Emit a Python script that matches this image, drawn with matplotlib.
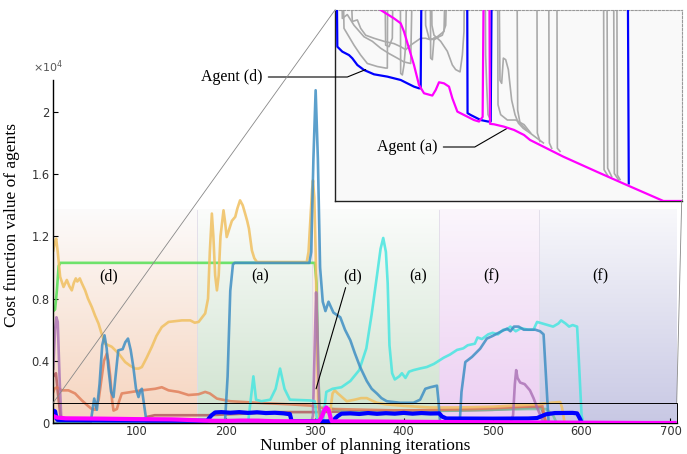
import numpy as np
import matplotlib
matplotlib.use("Agg")
import matplotlib.pyplot as plt
from matplotlib.patches import Rectangle, ConnectionPatch

# ---------------- data (cost values in units of 1e4) ----------------
green_x = [6, 8, 10, 12, 14, 300, 302, 304, 306]
green_y = [0.72, 0.73, 0.85, 1.01, 1.03, 1.03, 0.9, 0.3, 0.0]

gold_x = [6, 7.3, 9.2, 11, 13.7, 17.5, 21.2, 24, 26.8, 29, 31.3, 33, 35.8, 38, 41.8, 45, 49.3, 53,
          56.8, 60, 64.3, 71.8, 79.4, 86.8, 92, 98, 102, 105.6, 111, 116.8, 122, 128, 135.6, 150.6,
          160, 165, 169.4, 176.8, 180, 182, 184.3, 186, 188, 190, 192, 194, 197.4, 199, 201, 204,
          206.8, 210.6, 213, 216, 219, 221.7, 224, 226, 229.3, 232, 235, 291, 293, 295, 297, 298,
          299.5, 301, 302.5, 304, 306, 316, 318, 320, 322.5, 326, 331, 336, 345, 352, 358.5, 364,
          370, 380, 400, 430, 460, 500, 530, 550, 565, 576, 578, 581]
gold_y = [1.11, 1.15, 1.186, 1.1, 0.94, 0.875, 0.92, 0.88, 0.853, 0.9, 0.93, 0.91, 0.93, 0.9, 0.853,
          0.8, 0.746, 0.69, 0.64, 0.58, 0.51, 0.49, 0.447, 0.392, 0.37, 0.35, 0.35, 0.36, 0.42, 0.49,
          0.56, 0.617, 0.65, 0.66, 0.66, 0.645, 0.65, 0.705, 0.8, 1.1, 1.347, 1.2, 0.95, 0.853, 0.95,
          1.2, 1.368, 1.3, 1.196, 1.25, 1.30, 1.326, 1.38, 1.432, 1.4, 1.347, 1.3, 1.25, 1.11, 1.06,
          1.035, 1.035, 1.1, 1.3, 1.5, 1.56, 1.45, 1.1, 0.6, 0.1, 0.0, 0.0, 0.1, 0.19, 0.21, 0.19,
          0.165, 0.14, 0.15, 0.16, 0.16, 0.145, 0.13, 0.12, 0.11, 0.1, 0.1, 0.105, 0.115, 0.12,
          0.13, 0.135, 0.1, 0.0]

steel_x = [6, 48, 50, 52, 55, 58, 61, 63.6, 66, 68, 71, 73.7, 76, 79, 84, 87, 90, 93, 96, 99, 101.8,
           104, 105.6, 108, 111, 199, 202, 205, 208, 210, 294, 296, 298.5, 301, 303.5, 306, 309,
           312, 315.5, 321, 328.7, 334, 340, 345, 351, 358.5, 364, 370, 375, 381, 396, 411, 418.5,
           424.3, 430, 437.4, 439, 441, 463, 465, 469.3, 476.8, 486, 493.5, 500, 505, 510, 516.3,
           520, 524, 529.2, 535, 542, 548, 553.4, 557.3, 560, 563]
steel_y = [0, 0, 0.08, 0.157, 0.085, 0.25, 0.5, 0.564, 0.48, 0.35, 0.2, 0.167, 0.3, 0.467, 0.475,
           0.52, 0.543, 0.47, 0.36, 0.22, 0.167, 0.21, 0.22, 0.12, 0.0, 0.0, 0.3, 0.85, 1.02, 1.03,
           1.03, 1.1, 1.7, 2.14, 1.7, 1.0, 0.78, 0.72, 0.78, 0.71, 0.68, 0.6, 0.532, 0.45, 0.36,
           0.27, 0.22, 0.189, 0.16, 0.14, 0.13, 0.13, 0.15, 0.22, 0.23, 0.24, 0.15, 0.0, 0.0, 0.2,
           0.392, 0.425, 0.478, 0.543, 0.56, 0.575, 0.59, 0.607, 0.59, 0.62, 0.62, 0.6, 0.6, 0.6,
           0.59, 0.57, 0.3, 0.0]

turq_x = [6, 10, 14, 225, 228, 231, 234, 240, 250, 256, 261, 266, 272, 295, 300, 303, 309, 313, 320,
          330, 340, 350, 358, 364, 370, 374, 377, 380, 382, 384, 387, 390, 395, 398, 402, 406, 411,
          418, 426, 434, 445, 452, 460, 467, 472, 480, 483, 488, 495, 500, 506, 512, 516, 520, 526,
          532, 540, 546, 550, 556, 562, 568, 574, 577, 582, 586, 590, 595, 597, 600, 602]
turq_y = [0.07, 0.05, 0.0, 0.0, 0.15, 0.30, 0.15, 0.14, 0.15, 0.22, 0.35, 0.22, 0.15, 0.145, 0.14,
          0.0, 0.0, 0.2, 0.22, 0.23, 0.27, 0.34, 0.48, 0.7, 0.95, 1.12, 1.19, 1.1, 0.9, 0.5, 0.32,
          0.28, 0.3, 0.32, 0.29, 0.33, 0.34, 0.35, 0.36, 0.38, 0.42, 0.44, 0.47, 0.48, 0.5, 0.51,
          0.55, 0.54, 0.57, 0.58, 0.57, 0.6, 0.6, 0.62, 0.59, 0.61, 0.6, 0.6, 0.65, 0.64, 0.63,
          0.62, 0.64, 0.66, 0.64, 0.62, 0.63, 0.62, 0.4, 0.05, 0.0]

coral_x = [6, 7.3, 10, 15.5, 23, 30.5, 38, 45, 49.3, 53, 57, 60.6, 63, 66.2, 68, 70, 72, 73.7, 77.5,
           80, 83, 94.4, 105.6, 120.6, 128, 135.6, 146.8, 158, 169.4, 176.8, 182, 190, 205, 235,
           272, 295, 305, 320, 360, 400, 440, 480, 520, 550, 556, 560]
coral_y = [0.2, 0.22, 0.23, 0.21, 0.21, 0.19, 0.146, 0.11, 0.09, 0.085, 0.15, 0.3, 0.4, 0.446, 0.4,
           0.3, 0.15, 0.08, 0.09, 0.14, 0.19, 0.2, 0.21, 0.22, 0.23, 0.21, 0.2, 0.18, 0.185, 0.2,
           0.19, 0.157, 0.14, 0.13, 0.12, 0.112, 0.1, 0.09, 0.085, 0.08, 0.085, 0.09, 0.1, 0.11,
           0.11, 0.0]

purple_x = [6, 8, 9.5, 11, 13, 15, 18, 296, 298, 300, 301.5, 303, 305, 307, 520, 523, 525, 526.5,
            528, 531, 536, 542, 546, 550, 555, 558]
purple_y = [0.35, 0.6, 0.68, 0.65, 0.3, 0.02, 0.0, 0.0, 0.05, 0.5, 0.84, 0.6, 0.1, 0.0, 0.0, 0.05,
            0.25, 0.34, 0.29, 0.26, 0.25, 0.21, 0.16, 0.1, 0.03, 0.0]

darkred_x = [6, 9, 11, 14, 18, 100, 112, 120, 180, 220, 260, 300, 340, 400, 450, 500, 545, 555, 560]
darkred_y = [0.3, 0.32, 0.2, 0.05, 0.0, 0.0, 0.04, 0.05, 0.05, 0.06, 0.07, 0.07, 0.075, 0.08, 0.08,
             0.085, 0.1, 0.1, 0.0]

teal_x = [305, 310, 320, 340, 380, 420, 460, 500, 540, 560, 568, 572]
teal_y = [0.0, 0.1, 0.09, 0.07, 0.07, 0.075, 0.08, 0.085, 0.09, 0.09, 0.05, 0.0]

# Agent (d): blue, Agent (a): magenta
agent_d_x = [6, 8, 9.4, 10.7, 20.8, 34.3, 41, 51.2, 64.6, 84.9, 111.8, 138.8, 152.3, 165.7, 175.8,
             179.2, 181, 184, 188, 195, 205, 215, 225, 235, 245, 255, 265, 270, 272, 274, 280.3,
             300.5, 315.4, 320.8, 323, 326, 330, 340, 350, 360, 370, 380, 390, 400, 410, 420, 430,
             440, 443, 448, 500, 540, 550, 560, 570, 590, 595, 598, 600]
agent_d_y = [0.08, 0.075, 0.03, 0.0202, 0.01955, 0.0191, 0.01868, 0.0178, 0.01715, 0.01658,
             0.01628, 0.01584, 0.0154, 0.01497, 0.01475, 0.01475, 0.03, 0.05, 0.068, 0.07, 0.066,
             0.07, 0.065, 0.069, 0.064, 0.066, 0.062, 0.058, 0.058, 0.0115, 0.01126, 0.0106, 0.0104,
             0.0104, 0.03, 0.045, 0.06, 0.062, 0.058, 0.064, 0.059, 0.063, 0.06, 0.065, 0.06, 0.064,
             0.061, 0.062, 0.042, 0.029, 0.028, 0.029, 0.032, 0.056, 0.064, 0.065, 0.062, 0.03,
             0.0023]

agent_a_x = [6, 10, 20, 60, 98.3, 125.3, 138.8, 145.5, 155.6, 165.7, 175.8, 186, 202.8, 209.6,
             216.3, 226.4, 236.5, 243.3, 253.4, 273.6, 287, 297.2, 304.5, 308, 311, 313, 315.5,
             318, 319.4, 327.5, 347.7, 368, 388.2, 400.3, 467.7, 535, 595.7, 670, 707]
agent_a_y = [0.045, 0.035, 0.03, 0.028, 0.025, 0.0239, 0.02326, 0.02217, 0.01999, 0.0178, 0.01519,
             0.0141, 0.0138, 0.01453, 0.01554, 0.0154, 0.01497, 0.01344, 0.0117, 0.01104, 0.0106,
             0.0104, 0.011, 0.04, 0.085, 0.1, 0.085, 0.03, 0.0101, 0.01004, 0.00973, 0.0093,
             0.00864, 0.00799, 0.0058, 0.00384, 0.0021, 0.0, 0.0]

# other agents as seen in the zoomed inset (grey)
inset_gray = [
    ([18.8, 24.2, 34.3, 44.4, 57.9, 71.4, 91.6, 108.4, 111.8, 113.2],
     [0.04, 0.0226, 0.0215, 0.0204, 0.0191, 0.018, 0.0176, 0.0174, 0.0174, 0.04]),
    ([30.9, 41, 51.2, 57.9, 68, 84.9, 105.1, 125.3, 138.8, 148.9, 159, 179.2, 189.3, 199.4, 212.9,
      226.4, 233.1],
     [0.04, 0.0235, 0.0237, 0.0226, 0.0217, 0.0213, 0.0209, 0.0206, 0.0202, 0.0198, 0.0204, 0.0213,
      0.0213, 0.0211, 0.0215, 0.0222, 0.04]),
    ([17.5, 20.8, 30.9, 44.4, 64.6, 81.5, 98.3, 115.2, 132, 145.5, 159, 165.7],
     [0.04, 0.0239, 0.0244, 0.023, 0.0215, 0.0209, 0.02, 0.0193, 0.0187, 0.0182, 0.018, 0.04]),
    ([137.4, 138.8, 142.2, 145.5, 148.9, 153.6],
     [0.04, 0.0167, 0.0165, 0.0178, 0.0204, 0.04]),
    ([105, 108.4, 115.2, 121.9, 125.3],
     [0.04, 0.0204, 0.0202, 0.0213, 0.04]),
    ([186, 189.3, 196.1, 206.2, 216.3, 223, 229.8, 236.5],
     [0.04, 0.023, 0.0213, 0.0211, 0.0215, 0.0217, 0.023, 0.04]),
    ([199.4, 202, 206.2, 219.7, 233.1, 243.3, 250, 258.8, 263.5, 266.8, 268.9],
     [0.04, 0.023, 0.0217, 0.0209, 0.0196, 0.0178, 0.0172, 0.0169, 0.0191, 0.0222, 0.04]),
    ([198.1, 199.4, 202.8, 206.2],
     [0.04, 0.0187, 0.0185, 0.0213]),
    ([308.6, 310.6, 312.7, 315.4, 320.8],
     [0.04, 0.0191, 0.0152, 0.0113, 0.0106]),
    ([334.2, 335.6, 341, 354.5, 371.3, 388.2, 401.6],
     [0.04, 0.0126, 0.0113, 0.0106, 0.0106, 0.01, 0.0089]),
    ([336.3, 339.6, 343, 346.4, 351.1, 356.5, 363.2, 370, 376.7, 386.8, 400.3, 427.3],
     [0.04, 0.0158, 0.0154, 0.0187, 0.0185, 0.0172, 0.0132, 0.0113, 0.0102, 0.0095, 0.0089, 0.0076]),
    ([373.3, 375.3, 380.1, 393.5], [0.04, 0.0119, 0.0102, 0.0093]),
    ([413.8, 415.1, 420.5], [0.04, 0.0089, 0.0078]),
    ([437.4, 439.4, 444.1], [0.04, 0.0076, 0.0069]),
    ([454.2, 455.6, 461], [0.04, 0.0069, 0.0065]),
    ([548.6, 550, 558.7], [0.04, 0.0041, 0.0032]),
    ([555.3, 557.3, 565.4], [0.04, 0.0043, 0.0032]),
    ([568.8, 570.8, 578.9], [0.04, 0.0036, 0.0028]),
    ([575.5, 576.9, 582.3], [0.04, 0.0034, 0.0028]),
]

# behaviour regions
region_labels = ['(d)', '(a)', '(d)', '(a)', '(f)', '(f)']
region_start = [6, 168, 297, 304, 440, 552]
region_end = [168, 297, 304, 440, 552, 707]
label_x = [68, 238.7, 343, 416.8, 499, 621]
label_y = 0.94

xticks = [100, 200, 300, 400, 500, 600, 700]
yticks = [0, 0.4, 0.8, 1.2, 1.6, 2.0]
ytick_labels = ['0', '0.4', '0.8', '1.2', '1.6', '2']

# ---------------- styling ----------------
region_bottom = [(246, 212, 190), (206, 226, 206), (246, 212, 190), (206, 226, 206),
                 (236, 206, 242), (200, 200, 228)]
region_top = [(252, 251, 251), (251, 252, 251), (252, 251, 251), (251, 252, 251),
              (251, 246, 252), (248, 248, 251)]
grad_top = 1.37

fig = plt.figure(figsize=(6.87, 4.54), dpi=100)
ax = fig.add_axes([53.3 / 687, 31 / 454, 623.4 / 687, 343 / 454])

t = np.linspace(0, 1, 256)[:, None]
for x0, x1, cb, ct in zip(region_start, region_end, region_bottom, region_top):
    cb = np.array(cb) / 255.0
    ct = np.array(ct) / 255.0
    img = (cb[None, :] * (1 - t) + ct[None, :] * t)[:, None, :]
    ax.imshow(img, extent=[x0, x1, 0, grad_top], origin='lower', aspect='auto',
              zorder=0, interpolation='bilinear')
for xb in region_start[1:]:
    ax.plot([xb, xb], [0, grad_top], color=(0.88, 0.86, 0.91), lw=0.6, zorder=0.5)

lw = 1.9
al = 0.8
ax.plot(darkred_x, darkred_y, color='#b0555a', lw=lw, alpha=al, zorder=2)
ax.plot(teal_x, teal_y, color='#78c0a0', lw=lw, alpha=al, zorder=2)
ax.plot(coral_x, coral_y, color='#e07a55', lw=lw, alpha=al, zorder=2)
ax.plot(green_x, green_y, color='#55e055', lw=lw, alpha=0.85, zorder=2)
ax.plot(gold_x, gold_y, color='#f0c060', lw=lw, alpha=0.85, zorder=2)
ax.plot(purple_x, purple_y, color='#a86eb4', lw=lw, alpha=al, zorder=2)
ax.plot(turq_x, turq_y, color='#48e6e0', lw=lw, alpha=0.85, zorder=2)
ax.plot(steel_x, steel_y, color='#3f8fc4', lw=lw, alpha=0.85, zorder=2)
ax.plot(agent_d_x, agent_d_y, color='#0000ff', lw=3.0, zorder=3, solid_capstyle='butt')
ax.plot(agent_a_x, agent_a_y, color='#ff00ff', lw=3.0, zorder=4, solid_capstyle='butt')

ax.set_xlim(6, 707)
ax.set_ylim(0, 2.206)
ax.set_xticks(xticks)
ax.set_xticklabels([str(v) for v in xticks])
ax.set_yticks(yticks)
ax.set_yticklabels(ytick_labels)
ax.tick_params(direction='in', length=3.5, width=0.8, labelsize=8.3, labelcolor='#333333')
ax.tick_params(axis='x', pad=1.5)
ax.tick_params(axis='y', pad=2.5)
for s in ['top', 'right']:
    ax.spines[s].set_visible(False)
for s in ['left', 'bottom']:
    ax.spines[s].set_linewidth(1.0)

serif = 'Liberation Serif'
ax.set_xlabel('Number of planning iterations', family=serif, fontsize=12.5, labelpad=0)
ax.set_ylabel('Cost function value of agents', family=serif, fontsize=12.5)
ax.yaxis.set_label_coords(-0.0534, 0.578)
ax.text(-0.033, 1.015, r'$\times10^{4}$', transform=ax.transAxes, fontsize=8,
        color='#555555', ha='left', va='bottom')

for lab, lx in zip(region_labels, label_x):
    if lx == label_x[2]:
        ax.annotate(lab, xy=(301.5, 0.22), xytext=(lx, label_y), family=serif, fontsize=11.5,
                    ha='center', va='center', zorder=6,
                    arrowprops=dict(arrowstyle='-', color='black', lw=0.8,
                                    relpos=(0.15, 0.0), shrinkA=0, shrinkB=0))
    else:
        ax.text(lx, label_y, lab, family=serif, fontsize=11.5, ha='center', va='center', zorder=6)

# zoom rectangle
rect_y = 0.131
ax.add_patch(Rectangle((6, 0), 701, rect_y, fill=False, edgecolor='black', lw=0.7, zorder=5,
                       clip_on=False))

# ---------------- inset ----------------
axin = fig.add_axes([335 / 687, (454 - 201) / 454, 346.7 / 687, 191 / 454])
axin.set_facecolor('#f9f9f9')
for gx, gy in inset_gray:
    axin.plot(gx, gy, color='#aaaaaa', lw=1.2, zorder=2)
axin.plot(agent_d_x, agent_d_y, color='#0000ff', lw=1.6, zorder=3)
axin.plot(agent_a_x, agent_a_y, color='#ff00ff', lw=1.6, zorder=4)
axin.set_xlim(6, 707)
axin.set_ylim(0, 0.025)
axin.set_xticks([])
axin.set_yticks([])
for s in ['top', 'right']:
    axin.spines[s].set_linestyle((0, (2, 1.5)))
    axin.spines[s].set_color('#999999')
    axin.spines[s].set_linewidth(0.8)
for s in ['left', 'bottom']:
    axin.spines[s].set_color('#222222')
    axin.spines[s].set_linewidth(1.0)

axin.annotate('Agent (d)', xy=(68, 0.0172), xycoords='data',
              xytext=(232, 454 - 77), textcoords='figure pixels', family=serif, fontsize=11.5,
              ha='center', va='center', annotation_clip=False,
              arrowprops=dict(arrowstyle='-', color='black', lw=0.8, relpos=(1.0, 0.5),
                              shrinkA=2, shrinkB=0,
                              connectionstyle='angle,angleA=0,angleB=22,rad=0'))
axin.annotate('Agent (a)', xy=(356.4, 0.0096), xycoords='data',
              xytext=(407.5, 454 - 147), textcoords='figure pixels', family=serif, fontsize=11.5,
              ha='center', va='center', annotation_clip=False,
              arrowprops=dict(arrowstyle='-', color='black', lw=0.8, relpos=(1.0, 0.5),
                              shrinkA=2, shrinkB=0,
                              connectionstyle='angle,angleA=0,angleB=30,rad=0'))

# connector lines between zoom rectangle and inset
con1 = ConnectionPatch(xyA=(6, rect_y), coordsA=ax.transData, xyB=(0, 1),
                       coordsB=axin.transAxes, color='#888888', lw=0.6)
con2 = ConnectionPatch(xyA=(707, rect_y), coordsA=ax.transData, xyB=(1, 0),
                       coordsB=axin.transAxes, color='#888888', lw=0.6)
fig.add_artist(con1)
fig.add_artist(con2)

fig.savefig('out.png', dpi=100)
